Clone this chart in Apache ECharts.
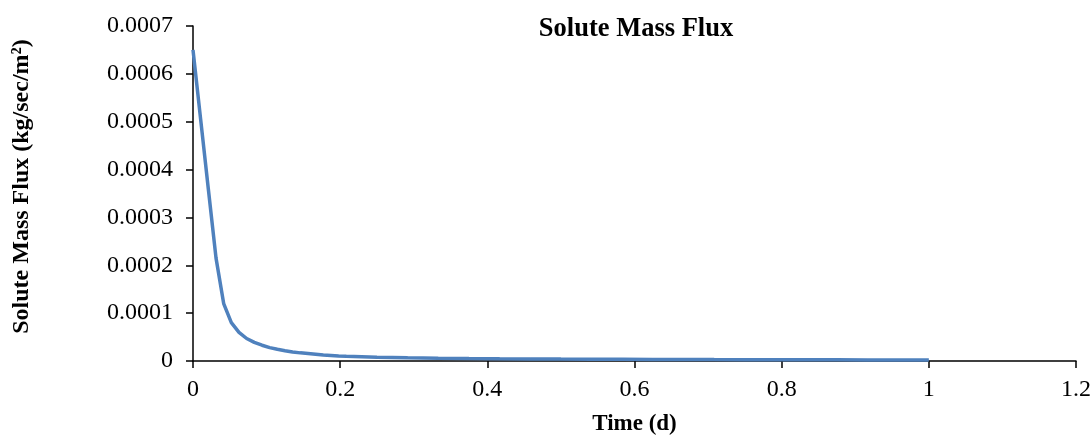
<!DOCTYPE html>
<html>
<head>
<meta charset="utf-8">
<script src="https://cdn.jsdelivr.net/npm/echarts@6/dist/echarts.min.js"></script>
<style>
  html, body { margin: 0; padding: 0; background: #fff; }
  #chart { width: 1092px; height: 435px; }
</style>
</head>
<body>
<div id="chart"></div>
<script>
// time in days
var times = [
  0, 0.0104, 0.0208, 0.0313, 0.0417, 0.0521, 0.0625, 0.0729, 0.0833, 0.0938,
  0.1042, 0.1146, 0.125, 0.1354, 0.1458, 0.1563, 0.1667, 0.1771, 0.1875, 0.1979,
  0.2083, 0.25, 0.2917, 0.3333, 0.375, 0.4167, 0.4583, 0.5, 0.5417, 0.5833,
  0.625, 0.6667, 0.7083, 0.75, 0.7917, 0.8333, 0.875, 0.9167, 0.9583, 1.0
];
// solute mass flux (kg/sec/m2)
var flux = [
  0.00065, 0.000505, 0.00036, 0.000215, 0.00012, 0.00008, 0.00006, 0.000047, 0.000039, 0.000033,
  0.000028, 0.0000245, 0.0000215, 0.000019, 0.000017, 0.0000155, 0.000014, 0.0000125, 0.0000115, 0.0000105,
  0.0000097, 0.000008, 0.0000068, 0.000006, 0.0000053, 0.0000048, 0.0000044, 0.000004, 0.0000037, 0.0000035,
  0.0000033, 0.0000031, 0.0000029, 0.0000028, 0.0000026, 0.0000025, 0.0000024, 0.0000023, 0.0000022, 0.0000021
];
var xTicks = ['0', '0.2', '0.4', '0.6', '0.8', '1', '1.2'];
var yTicks = ['0', '0.0001', '0.0002', '0.0003', '0.0004', '0.0005', '0.0006', '0.0007'];

var points = [];
for (var i = 0; i < times.length; i++) {
  points.push([times[i], flux[i]]);
}

var font = '"Liberation Serif", "Times New Roman", serif';
var myChart = echarts.init(document.getElementById('chart'));
myChart.setOption({
  animation: false,
  title: {
    text: 'Solute Mass Flux',
    left: 631,
    top: 11,
    textAlign: 'center',
    textStyle: { fontFamily: font, fontSize: 26.5, fontWeight: 'bold', color: '#000' }
  },
  grid: { left: 193, right: 16, top: 26, bottom: 74, outerBoundsMode: 'none' },
  xAxis: {
    type: 'value',
    min: 0,
    max: 1.2,
    interval: 0.2,
    name: 'Time (d)',
    nameLocation: 'middle',
    nameGap: 52,
    nameTextStyle: { fontFamily: font, fontSize: 23, fontWeight: 'bold', color: '#000' },
    axisLine: { lineStyle: { color: '#000', width: 1.5 } },
    axisTick: { show: true, length: 7, lineStyle: { color: '#000', width: 1.5 } },
    axisLabel: {
      margin: 17,
      fontFamily: font, fontSize: 24, color: '#000',
      formatter: function (v) { return xTicks[Math.round(v / 0.2)]; }
    },
    splitLine: { show: false }
  },
  yAxis: {
    type: 'value',
    min: 0,
    max: 0.0007,
    interval: 0.0001,
    name: 'Solute Mass Flux (kg/sec/m²)',
    nameLocation: 'middle',
    nameGap: 159,
    nameTextStyle: {
      fontFamily: font, fontSize: 24, fontWeight: 'bold', color: '#000',
      padding: [0, 0, 0, 14]
    },
    axisLine: { show: true, lineStyle: { color: '#000', width: 1.5 } },
    axisTick: { show: true, length: 7, lineStyle: { color: '#000', width: 1.5 } },
    axisLabel: {
      margin: 20,
      fontFamily: font, fontSize: 24, color: '#000',
      formatter: function (v) { return yTicks[Math.round(v / 0.0001)]; }
    },
    splitLine: { show: false }
  },
  series: [
    {
      type: 'line',
      data: points,
      showSymbol: false,
      lineStyle: { color: '#4F81BD', width: 3.5 },
      itemStyle: { color: '#4F81BD' }
    }
  ]
});
</script>
</body>
</html>
